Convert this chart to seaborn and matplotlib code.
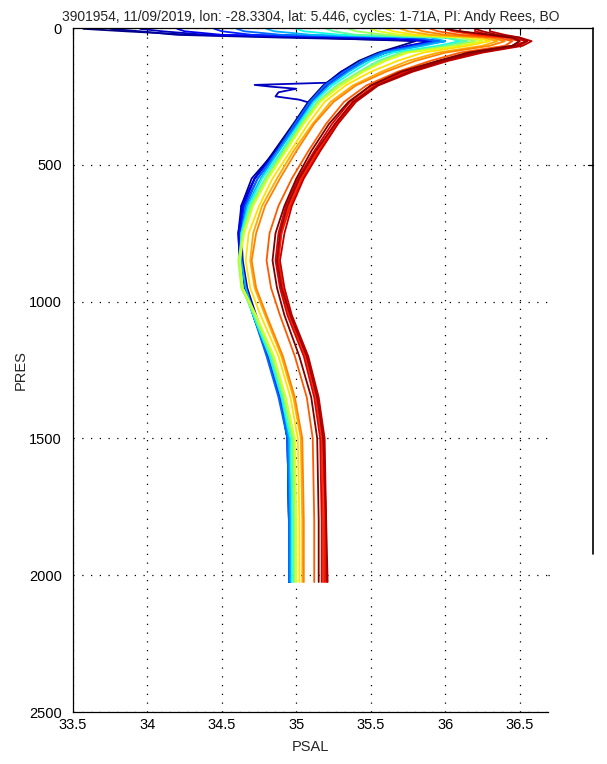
import numpy as np
import pandas as pd
import matplotlib
matplotlib.use("Agg")
import matplotlib.pyplot as plt
from matplotlib.lines import Line2D
import seaborn as sns

# ---------------- data ----------------
TITLE = "3901954, 11/09/2019, lon: -28.3304, lat: 5.446, cycles: 1-71A, PI: Andy Rees, BO"

PRES_LEVELS = [3, 12, 25, 35, 48, 65, 90, 120, 160, 210, 270, 350, 450, 550,
               650, 750, 850, 950, 1050, 1200, 1350, 1500, 1800, 2025]

psal_c01 = [33.57, 33.85, 34.30, 35.10, 35.80, 35.70, 35.55, 35.42, 35.30, 35.18, 35.08, 34.98,
            34.85, 34.72, 34.64, 34.62, 34.63, 34.66, 34.72, 34.82, 34.90, 34.95, 34.96, 34.96]
psal_c03 = [33.75, 33.95, 34.20, 34.90, 36.00, 35.80, 35.60, 35.45, 35.32, 35.20, 35.10, 34.99,
            34.86, 34.70, 34.63, 34.63, 34.64, 34.67, 34.73, 34.83, 34.90, 34.95, 34.96, 34.96]
psal_c08 = [34.20, 34.25, 34.50, 35.50, 35.95, 35.75, 35.58, 35.46, 35.33, 35.21, 35.10, 35.00,
            34.87, 34.72, 34.64, 34.61, 34.62, 34.66, 34.72, 34.82, 34.89, 34.94, 34.95, 34.95]
psal_c12 = [34.45, 34.50, 34.70, 35.70, 36.00, 35.80, 35.60, 35.47, 35.34, 35.20, 35.10, 35.00,
            34.88, 34.74, 34.65, 34.62, 34.63, 34.66, 34.71, 34.81, 34.89, 34.94, 34.95, 34.95]
psal_c17 = [34.60, 34.65, 34.90, 35.80, 35.95, 35.80, 35.57, 35.44, 35.32, 35.19, 35.09, 34.99,
            34.87, 34.74, 34.66, 34.63, 34.63, 34.66, 34.71, 34.80, 34.88, 34.94, 34.95, 34.95]
psal_c22 = [34.80, 34.85, 35.10, 35.90, 36.00, 35.85, 35.60, 35.47, 35.35, 35.22, 35.11, 35.01,
            34.88, 34.76, 34.67, 34.63, 34.63, 34.66, 34.72, 34.82, 34.90, 34.95, 34.96, 34.96]
psal_c27 = [35.00, 35.05, 35.30, 36.00, 36.10, 35.95, 35.65, 35.50, 35.38, 35.24, 35.12, 35.02,
            34.90, 34.77, 34.68, 34.63, 34.62, 34.64, 34.71, 34.82, 34.90, 34.96, 34.97, 34.97]
psal_c33 = [35.20, 35.25, 35.40, 36.00, 36.15, 36.00, 35.70, 35.55, 35.42, 35.27, 35.14, 35.03,
            34.91, 34.79, 34.69, 34.64, 34.62, 34.64, 34.72, 34.83, 34.91, 34.97, 34.98, 34.98]
psal_c39 = [35.35, 35.40, 35.60, 36.10, 36.20, 36.05, 35.72, 35.58, 35.43, 35.28, 35.15, 35.04,
            34.92, 34.80, 34.70, 34.64, 34.61, 34.63, 34.72, 34.84, 34.92, 34.98, 34.99, 34.99]
psal_c44 = [35.50, 35.55, 35.70, 36.15, 36.25, 36.10, 35.75, 35.60, 35.45, 35.30, 35.16, 35.05,
            34.93, 34.81, 34.71, 34.65, 34.62, 34.64, 34.73, 34.85, 34.93, 34.99, 35.00, 35.00]
psal_c48 = [35.60, 35.65, 35.80, 36.20, 36.30, 36.15, 35.85, 35.68, 35.50, 35.33, 35.19, 35.08,
            34.96, 34.84, 34.75, 34.68, 34.66, 34.69, 34.76, 34.88, 34.96, 35.01, 35.02, 35.02]
psal_c52 = [35.70, 35.75, 35.90, 36.25, 36.35, 36.25, 35.95, 35.75, 35.57, 35.38, 35.23, 35.11,
            34.98, 34.87, 34.77, 34.71, 34.69, 34.72, 34.79, 34.90, 34.98, 35.03, 35.04, 35.04]
psal_c55 = [35.80, 35.85, 36.00, 36.30, 36.40, 36.30, 36.00, 35.80, 35.60, 35.40, 35.25, 35.12,
            35.00, 34.89, 34.79, 34.73, 34.70, 34.73, 34.80, 34.91, 34.99, 35.04, 35.05, 35.05]
psal_c58 = [35.90, 35.95, 36.10, 36.35, 36.45, 36.40, 36.10, 35.90, 35.68, 35.47, 35.32, 35.20,
            35.08, 34.97, 34.88, 34.82, 34.80, 34.83, 34.89, 34.99, 35.07, 35.11, 35.12, 35.12]
psal_c61 = [36.00, 36.05, 36.20, 36.40, 36.50, 36.45, 36.20, 35.98, 35.74, 35.52, 35.38, 35.26,
            35.14, 35.03, 34.95, 34.90, 34.87, 34.90, 34.95, 35.06, 35.13, 35.17, 35.18, 35.18]
psal_c63 = [36.10, 36.10, 36.25, 36.45, 36.55, 36.50, 36.22, 36.00, 35.75, 35.53, 35.39, 35.27,
            35.15, 35.04, 34.96, 34.90, 34.88, 34.91, 34.96, 35.07, 35.14, 35.18, 35.19, 35.19]
psal_c65 = [36.20, 36.20, 36.30, 36.45, 36.55, 36.45, 36.18, 35.96, 35.72, 35.50, 35.36, 35.24,
            35.12, 35.01, 34.93, 34.88, 34.86, 34.89, 34.94, 35.05, 35.12, 35.16, 35.17, 35.17]
psal_c67 = [36.30, 36.30, 36.40, 36.50, 36.58, 36.52, 36.25, 36.02, 35.78, 35.55, 35.40, 35.28,
            35.16, 35.05, 34.97, 34.92, 34.89, 34.92, 34.97, 35.08, 35.15, 35.19, 35.20, 35.20]
psal_c69 = [36.20, 36.25, 36.35, 36.50, 36.55, 36.48, 36.20, 35.98, 35.76, 35.54, 35.38, 35.26,
            35.13, 35.02, 34.94, 34.89, 34.87, 34.90, 34.96, 35.07, 35.14, 35.18, 35.20, 35.21]
psal_c71 = [36.00, 36.10, 36.30, 36.45, 36.50, 36.45, 36.15, 35.95, 35.70, 35.50, 35.35, 35.22,
            35.10, 35.00, 34.92, 34.86, 34.84, 34.87, 34.92, 35.02, 35.10, 35.14, 35.15, 35.15]

# cycle 5 has its own pressure levels (spike near 210 dbar)
pres_c05 = [3, 12, 25, 35, 48, 65, 90, 120, 160, 200, 208, 214, 222, 235, 250, 262, 275, 290,
            350, 450, 550, 650, 750, 850, 950, 1050, 1200, 1350, 1500, 1800, 2025]
psal_c05 = [33.95, 34.10, 34.40, 35.30, 35.90, 35.75, 35.57, 35.45, 35.30, 35.21, 34.72, 34.82,
            35.00, 34.88, 34.86, 35.02, 35.10, 35.06, 34.99, 34.86, 34.72, 34.63, 34.61, 34.62,
            34.65, 34.71, 34.81, 34.89, 34.94, 34.95, 34.95]

profiles = {
    1: psal_c01, 3: psal_c03, 8: psal_c08, 12: psal_c12, 17: psal_c17, 22: psal_c22,
    27: psal_c27, 33: psal_c33, 39: psal_c39, 44: psal_c44, 48: psal_c48, 52: psal_c52,
    55: psal_c55, 58: psal_c58, 61: psal_c61, 63: psal_c63, 65: psal_c65, 67: psal_c67,
    69: psal_c69, 71: psal_c71,
}

X_TICKS = [33.5, 34, 34.5, 35, 35.5, 36, 36.5]
X_TICKLABELS = ["33.5", "34", "34.5", "35", "35.5", "36", "36.5"]
Y_TICKS = [0, 500, 1000, 1500, 2000, 2500]
Y_TICKLABELS = ["0", "500", "1000", "1500", "2000", "2500"]

# ---------------- table ----------------
rows = []
for cyc, vals in profiles.items():
    for i, (p, s) in enumerate(zip(PRES_LEVELS, vals)):
        rows.append((cyc, i, p, s))
for i, (p, s) in enumerate(zip(pres_c05, psal_c05)):
    rows.append((5, i, p, s))
df = pd.DataFrame(rows, columns=["cycle", "order", "PRES", "PSAL"])
df = df.sort_values(["cycle", "order"]).reset_index(drop=True)

# ---------------- figure ----------------
sns.set_style("white")
plt.rcParams["font.family"] = ["Liberation Sans", "DejaVu Sans"]

W, H = 607, 764
fig = plt.figure(figsize=(W / 100, H / 100), dpi=100)
L, R, T, B = 73, 548, 28, 712
ax = fig.add_axes([L / W, 1 - B / H, (R - L) / W, (B - T) / H])

jet = matplotlib.colormaps["jet"]
sns.lineplot(data=df, x="PSAL", y="PRES", hue="cycle", units="cycle",
             estimator=None, sort=False, palette=jet, hue_norm=(1, 71),
             legend=False, linewidth=1.3, ax=ax)

ax.set_xlim(33.5, 36.69)
ax.set_ylim(2500, 0)
ax.set_xticks(X_TICKS)
ax.set_xticklabels(X_TICKLABELS)
ax.set_yticks(Y_TICKS)
ax.set_yticklabels(Y_TICKLABELS)
ax.tick_params(direction="in", length=5, width=0.8, labelsize=10.5, top=True,
               right=False, colors="black")
ax.tick_params(axis="y", pad=8)
ax.tick_params(axis="x", pad=4)
ax.grid(True, color="black", linestyle=(0, (1, 6)), linewidth=0.9)
ax.set_axisbelow(True)
for side in ["left", "bottom", "top"]:
    ax.spines[side].set_color("black")
    ax.spines[side].set_linewidth(0.9)
ax.spines["right"].set_visible(False)
ax.set_xlabel("PSAL", fontsize=10.5, labelpad=6)
ax.set_ylabel("PRES", fontsize=10.5, labelpad=1)
ax.set_title(TITLE, fontsize=10, pad=5)

# rendering artefact of the original picture: box continues to the right
fx = lambda px: px / W
fy = lambda py: 1 - py / H
fig.add_artist(Line2D([fx(R), fx(593)], [fy(T), fy(T)], color="black", lw=0.9))
fig.add_artist(Line2D([fx(593), fx(593)], [fy(T), fy(554)], color="black", lw=1.2))
fig.add_artist(Line2D([fx(R), fx(593)], [fy(165), fy(165)], color="black", lw=0.9,
                      linestyle=(0, (1, 6))))
fig.add_artist(Line2D([fx(588), fx(593)], [fy(165), fy(165)], color="black", lw=0.9))
fig.add_artist(Line2D([fx(R), fx(R + 4)], [fy(575), fy(575)], color="black", lw=0.9,
                      linestyle=(0, (1, 6))))

fig.savefig("out.png", dpi=100)
